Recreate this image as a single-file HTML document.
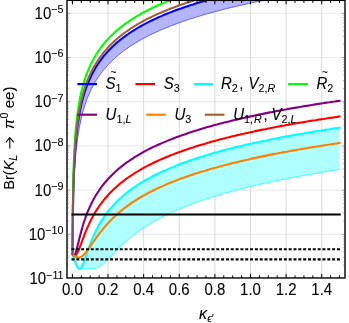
<!DOCTYPE html>
<html><head><meta charset="utf-8"><title>plot</title>
<style>html,body{margin:0;padding:0;background:#fff;}body{width:349px;height:323px;overflow:hidden;position:relative;font-family:"Liberation Sans",sans-serif;}</style></head>
<body>
<svg width="349" height="323" viewBox="0 0 349 323" style="position:absolute;left:0;top:0;will-change:transform">
<defs><clipPath id="c"><rect x="67.0" y="0.35" width="278.0" height="277.59999999999997"/></clipPath></defs>
<rect x="0" y="0" width="349" height="323" fill="#fff"/>
<g stroke="#d6d6d6" stroke-width="0.9"><line x1="108.02" y1="0.35" x2="108.02" y2="277.95"/><line x1="143.64" y1="0.35" x2="143.64" y2="277.95"/><line x1="179.26" y1="0.35" x2="179.26" y2="277.95"/><line x1="214.88" y1="0.35" x2="214.88" y2="277.95"/><line x1="250.50" y1="0.35" x2="250.50" y2="277.95"/><line x1="286.12" y1="0.35" x2="286.12" y2="277.95"/><line x1="321.74" y1="0.35" x2="321.74" y2="277.95"/></g>
<g stroke="#d6d6d6" stroke-width="0.55"><line x1="67.0" y1="234.40" x2="345.0" y2="234.40"/><line x1="67.0" y1="190.18" x2="345.0" y2="190.18"/><line x1="67.0" y1="145.96" x2="345.0" y2="145.96"/><line x1="67.0" y1="101.74" x2="345.0" y2="101.74"/><line x1="67.0" y1="57.52" x2="345.0" y2="57.52"/><line x1="67.0" y1="13.30" x2="345.0" y2="13.30"/></g>
<g clip-path="url(#c)" fill="none" stroke-linejoin="round">
<path d="M72.4,254.0 L72.4,253.5 L72.5,252.1 L72.5,249.9 L72.5,247.2 L72.5,244.2 L72.6,241.1 L72.6,237.9 L72.6,234.8 L72.7,231.9 L72.7,229.0 L72.7,226.3 L72.8,223.7 L72.8,221.2 L72.8,218.8 L72.8,216.6 L72.9,214.4 L72.9,212.4 L72.9,210.4 L73.0,208.6 L73.0,206.8 L73.0,205.0 L73.1,203.4 L73.1,201.8 L73.1,200.3 L73.3,190.8 L73.5,183.2 L73.7,176.8 L74.0,171.3 L74.2,166.5 L74.4,162.2 L74.6,158.3 L74.8,154.8 L75.0,151.6 L75.2,148.7 L75.4,145.9 L75.6,143.3 L75.8,140.9 L76.1,138.6 L76.3,136.5 L76.5,134.5 L76.7,132.5 L76.9,130.7 L77.1,129.0 L77.3,127.3 L77.5,125.7 L77.7,124.1 L77.9,122.7 L78.2,121.2 L78.4,119.8 L78.6,118.5 L78.8,117.2 L79.0,116.0 L79.2,114.8 L79.4,113.6 L79.6,112.5 L79.8,111.4 L80.0,110.3 L80.3,109.3 L80.5,108.3 L80.7,107.3 L80.9,106.3 L81.1,105.4 L81.3,104.5 L82.1,101.3 L82.8,98.5 L83.6,95.8 L84.3,93.3 L85.1,90.9 L85.8,88.7 L86.6,86.6 L87.3,84.6 L88.1,82.7 L88.9,80.9 L89.6,79.2 L90.4,77.5 L91.1,75.9 L91.9,74.4 L92.6,73.0 L93.4,71.6 L94.1,70.2 L94.9,68.9 L95.6,67.6 L96.4,66.4 L97.2,65.2 L97.9,64.0 L98.7,62.9 L99.4,61.8 L100.2,60.8 L100.9,59.8 L101.7,58.7 L102.4,57.8 L103.2,56.8 L103.9,55.9 L104.7,55.0 L105.5,54.1 L106.2,53.2 L107.0,52.4 L107.7,51.5 L108.5,50.7 L109.2,49.9 L110.0,49.2 L110.7,48.4 L111.5,47.7 L112.2,46.9 L113.0,46.2 L113.8,45.5 L114.5,44.8 L115.3,44.1 L116.0,43.4 L116.8,42.8 L117.5,42.1 L118.3,41.5 L119.0,40.9 L119.8,40.3 L120.5,39.6 L121.3,39.1 L122.1,38.5 L122.8,37.9 L123.6,37.3 L124.3,36.8 L125.1,36.2 L125.8,35.6 L128.2,34.0 L130.6,32.3 L133.0,30.8 L135.4,29.3 L137.8,27.9 L140.2,26.5 L142.6,25.1 L145.0,23.9 L147.4,22.6 L149.8,21.4 L152.2,20.2 L154.6,19.1 L157.0,18.0 L159.4,16.9 L161.9,15.9 L164.3,14.8 L166.7,13.8 L169.1,12.9 L171.5,11.9 L173.9,11.0 L176.3,10.1 L178.7,9.2 L181.1,8.4 L183.5,7.5 L185.9,6.7 L188.3,5.9 L190.7,5.1 L193.1,4.4 L195.5,3.6 L197.9,2.9 L200.3,2.1 L202.7,1.4 L205.1,0.7 L207.5,0.0 L209.9,-0.6 L212.3,-1.3 L214.7,-2.0 L217.1,-2.6 L219.5,-3.2 L221.9,-3.9 L224.3,-4.5 L226.7,-5.1 L229.1,-5.7 L231.5,-6.3 L233.9,-6.8 L236.3,-7.4 L238.7,-8.0 L241.1,-8.0 L243.5,-8.0 L245.9,-8.0 L248.3,-8.0 L250.7,-8.0 L253.1,-8.0 L255.5,-8.0 L257.9,-8.0 L260.3,-8.0 L262.7,-8.0 L265.1,-8.0 L267.5,-8.0 L269.9,-8.0 L272.3,-8.0 L274.7,-8.0 L277.1,-8.0 L279.5,-8.0 L281.9,-8.0 L284.3,-8.0 L286.7,-8.0 L289.1,-8.0 L291.5,-8.0 L293.9,-8.0 L296.3,-8.0 L298.7,-8.0 L301.1,-8.0 L303.5,-8.0 L305.9,-8.0 L308.3,-8.0 L310.7,-8.0 L313.1,-8.0 L315.5,-8.0 L317.9,-8.0 L320.3,-8.0 L322.7,-8.0 L325.1,-8.0 L327.5,-8.0 L329.9,-8.0 L332.3,-8.0 L334.7,-8.0 L337.1,-8.0 L339.5,-8.0 L339.5,-8.0 L337.1,-8.0 L334.7,-8.0 L332.3,-8.0 L329.9,-8.0 L327.5,-8.0 L325.1,-8.0 L322.7,-8.0 L320.3,-8.0 L317.9,-8.0 L315.5,-8.0 L313.1,-8.0 L310.7,-8.0 L308.3,-7.7 L305.9,-7.3 L303.5,-6.9 L301.1,-6.5 L298.7,-6.1 L296.3,-5.7 L293.9,-5.3 L291.5,-4.9 L289.1,-4.4 L286.7,-4.0 L284.3,-3.6 L281.9,-3.1 L279.5,-2.7 L277.1,-2.2 L274.7,-1.8 L272.3,-1.3 L269.9,-0.9 L267.5,-0.4 L265.1,0.1 L262.7,0.6 L260.3,1.1 L257.9,1.5 L255.5,2.0 L253.1,2.6 L250.7,3.1 L248.3,3.6 L245.9,4.1 L243.5,4.7 L241.1,5.2 L238.7,5.7 L236.3,6.3 L233.9,6.9 L231.5,7.4 L229.1,8.0 L226.7,8.6 L224.3,9.2 L221.9,9.8 L219.5,10.5 L217.1,11.1 L214.7,11.7 L212.3,12.4 L209.9,13.1 L207.5,13.7 L205.1,14.4 L202.7,15.1 L200.3,15.8 L197.9,16.6 L195.5,17.3 L193.1,18.1 L190.7,18.8 L188.3,19.6 L185.9,20.4 L183.5,21.2 L181.1,22.1 L178.7,22.9 L176.3,23.8 L173.9,24.7 L171.5,25.6 L169.1,26.6 L166.7,27.6 L164.3,28.5 L161.9,29.6 L159.4,30.6 L157.0,31.7 L154.6,32.8 L152.2,33.9 L149.8,35.1 L147.4,36.3 L145.0,37.6 L142.6,38.8 L140.2,40.2 L137.8,41.6 L135.4,43.0 L133.0,44.5 L130.6,46.0 L128.2,47.7 L125.8,49.4 L125.1,49.9 L124.3,50.5 L123.6,51.0 L122.8,51.6 L122.1,52.2 L121.3,52.8 L120.5,53.4 L119.8,54.0 L119.0,54.6 L118.3,55.2 L117.5,55.8 L116.8,56.5 L116.0,57.1 L115.3,57.8 L114.5,58.5 L113.8,59.2 L113.0,59.9 L112.2,60.6 L111.5,61.4 L110.7,62.1 L110.0,62.9 L109.2,63.6 L108.5,64.4 L107.7,65.3 L107.0,66.1 L106.2,66.9 L105.5,67.8 L104.7,68.7 L103.9,69.6 L103.2,70.5 L102.4,71.5 L101.7,72.5 L100.9,73.5 L100.2,74.5 L99.4,75.5 L98.7,76.6 L97.9,77.8 L97.2,78.9 L96.4,80.1 L95.6,81.3 L94.9,82.6 L94.1,83.9 L93.4,85.3 L92.6,86.7 L91.9,88.1 L91.1,89.6 L90.4,91.2 L89.6,92.9 L88.9,94.6 L88.1,96.4 L87.3,98.3 L86.6,100.3 L85.8,102.4 L85.1,104.6 L84.3,107.0 L83.6,109.5 L82.8,112.1 L82.1,115.0 L81.3,118.2 L81.1,119.1 L80.9,120.0 L80.7,121.0 L80.5,122.0 L80.3,123.0 L80.0,124.0 L79.8,125.1 L79.6,126.2 L79.4,127.3 L79.2,128.5 L79.0,129.7 L78.8,130.9 L78.6,132.2 L78.4,133.5 L78.2,134.9 L77.9,136.3 L77.7,137.8 L77.5,139.4 L77.3,141.0 L77.1,142.6 L76.9,144.4 L76.7,146.2 L76.5,148.1 L76.3,150.2 L76.1,152.3 L75.8,154.6 L75.6,157.0 L75.4,159.5 L75.2,162.3 L75.0,165.2 L74.8,168.4 L74.6,171.9 L74.4,175.7 L74.2,180.0 L74.0,184.7 L73.7,190.1 L73.5,196.4 L73.3,203.8 L73.1,212.8 L73.1,214.2 L73.1,215.7 L73.0,217.2 L73.0,218.8 L73.0,220.5 L72.9,222.2 L72.9,223.9 L72.9,225.8 L72.8,227.6 L72.8,229.6 L72.8,231.6 L72.8,233.6 L72.7,235.8 L72.7,237.9 L72.7,240.1 L72.6,242.3 L72.6,244.5 L72.6,246.6 L72.5,248.6 L72.5,250.4 L72.5,251.9 L72.5,253.0 L72.4,253.8 L72.4,254.0Z" fill="#b5b5ff" stroke="none"/>
<path d="M72.4,254.0 L72.4,253.8 L72.5,253.0 L72.5,251.9 L72.5,250.4 L72.5,248.6 L72.6,246.6 L72.6,244.5 L72.6,242.3 L72.7,240.1 L72.7,237.9 L72.7,235.8 L72.8,233.6 L72.8,231.6 L72.8,229.6 L72.8,227.6 L72.9,225.8 L72.9,223.9 L72.9,222.2 L73.0,220.5 L73.0,218.8 L73.0,217.2 L73.1,215.7 L73.1,214.2 L73.1,212.8 L73.3,203.8 L73.5,196.4 L73.7,190.1 L74.0,184.7 L74.2,180.0 L74.4,175.7 L74.6,171.9 L74.8,168.4 L75.0,165.2 L75.2,162.3 L75.4,159.5 L75.6,157.0 L75.8,154.6 L76.1,152.3 L76.3,150.2 L76.5,148.1 L76.7,146.2 L76.9,144.4 L77.1,142.6 L77.3,141.0 L77.5,139.4 L77.7,137.8 L77.9,136.3 L78.2,134.9 L78.4,133.5 L78.6,132.2 L78.8,130.9 L79.0,129.7 L79.2,128.5 L79.4,127.3 L79.6,126.2 L79.8,125.1 L80.0,124.0 L80.3,123.0 L80.5,122.0 L80.7,121.0 L80.9,120.0 L81.1,119.1 L81.3,118.2 L82.1,115.0 L82.8,112.1 L83.6,109.5 L84.3,107.0 L85.1,104.6 L85.8,102.4 L86.6,100.3 L87.3,98.3 L88.1,96.4 L88.9,94.6 L89.6,92.9 L90.4,91.2 L91.1,89.6 L91.9,88.1 L92.6,86.7 L93.4,85.3 L94.1,83.9 L94.9,82.6 L95.6,81.3 L96.4,80.1 L97.2,78.9 L97.9,77.8 L98.7,76.6 L99.4,75.5 L100.2,74.5 L100.9,73.5 L101.7,72.5 L102.4,71.5 L103.2,70.5 L103.9,69.6 L104.7,68.7 L105.5,67.8 L106.2,66.9 L107.0,66.1 L107.7,65.3 L108.5,64.4 L109.2,63.6 L110.0,62.9 L110.7,62.1 L111.5,61.4 L112.2,60.6 L113.0,59.9 L113.8,59.2 L114.5,58.5 L115.3,57.8 L116.0,57.1 L116.8,56.5 L117.5,55.8 L118.3,55.2 L119.0,54.6 L119.8,54.0 L120.5,53.4 L121.3,52.8 L122.1,52.2 L122.8,51.6 L123.6,51.0 L124.3,50.5 L125.1,49.9 L125.8,49.4 L128.2,47.7 L130.6,46.0 L133.0,44.5 L135.4,43.0 L137.8,41.6 L140.2,40.2 L142.6,38.8 L145.0,37.6 L147.4,36.3 L149.8,35.1 L152.2,33.9 L154.6,32.8 L157.0,31.7 L159.4,30.6 L161.9,29.6 L164.3,28.5 L166.7,27.6 L169.1,26.6 L171.5,25.6 L173.9,24.7 L176.3,23.8 L178.7,22.9 L181.1,22.1 L183.5,21.2 L185.9,20.4 L188.3,19.6 L190.7,18.8 L193.1,18.1 L195.5,17.3 L197.9,16.6 L200.3,15.8 L202.7,15.1 L205.1,14.4 L207.5,13.7 L209.9,13.1 L212.3,12.4 L214.7,11.7 L217.1,11.1 L219.5,10.5 L221.9,9.8 L224.3,9.2 L226.7,8.6 L229.1,8.0 L231.5,7.4 L233.9,6.9 L236.3,6.3 L238.7,5.7 L241.1,5.2 L243.5,4.7 L245.9,4.1 L248.3,3.6 L250.7,3.1 L253.1,2.6 L255.5,2.0 L257.9,1.5 L260.3,1.1 L262.7,0.6 L265.1,0.1 L267.5,-0.4 L269.9,-0.9 L272.3,-1.3 L274.7,-1.8 L277.1,-2.2 L279.5,-2.7 L281.9,-3.1 L284.3,-3.6 L286.7,-4.0 L289.1,-4.4 L291.5,-4.9 L293.9,-5.3 L296.3,-5.7 L298.7,-6.1 L301.1,-6.5 L303.5,-6.9 L305.9,-7.3 L308.3,-7.7 L310.7,-8.0 L313.1,-8.0 L315.5,-8.0 L317.9,-8.0 L320.3,-8.0 L322.7,-8.0 L325.1,-8.0 L327.5,-8.0 L329.9,-8.0 L332.3,-8.0 L334.7,-8.0 L337.1,-8.0 L339.5,-8.0" stroke="#4040ff" stroke-width="0.8"/>
<path d="M72.4,254.0 L72.4,254.1 L72.5,254.2 L72.5,254.3 L72.5,254.4 L72.5,254.4 L72.6,254.5 L72.6,254.6 L72.6,254.7 L72.7,254.8 L72.7,254.9 L72.7,255.0 L72.8,255.1 L72.8,255.1 L72.8,255.2 L72.8,255.3 L72.9,255.4 L72.9,255.5 L72.9,255.6 L73.0,255.7 L73.0,255.7 L73.0,255.8 L73.1,255.9 L73.1,256.0 L73.1,256.1 L73.3,256.7 L73.5,257.3 L73.7,257.9 L74.0,258.5 L74.2,259.1 L74.4,259.7 L74.6,260.3 L74.8,260.9 L75.0,261.4 L75.2,262.0 L75.4,262.5 L75.6,263.1 L75.8,263.6 L76.1,264.1 L76.3,264.6 L76.5,265.1 L76.7,265.5 L76.9,265.9 L77.1,266.3 L77.3,266.7 L77.5,267.1 L77.7,267.4 L77.9,267.7 L78.2,267.9 L78.4,268.1 L78.6,268.3 L78.8,268.5 L79.0,268.6 L79.2,268.7 L79.4,268.7 L79.6,268.7 L79.8,268.7 L80.0,268.6 L80.3,268.5 L80.5,268.3 L80.7,268.1 L80.9,267.9 L81.1,267.6 L81.3,267.3 L82.1,266.0 L82.8,264.4 L83.6,262.6 L84.3,260.5 L85.1,258.4 L85.8,256.2 L86.6,254.0 L87.3,251.9 L88.1,249.7 L88.9,247.7 L89.6,245.6 L90.4,243.6 L91.1,241.7 L91.9,239.9 L92.6,238.1 L93.4,236.4 L94.1,234.7 L94.9,233.1 L95.6,231.5 L96.4,230.0 L97.2,228.5 L97.9,227.1 L98.7,225.7 L99.4,224.4 L100.2,223.1 L100.9,221.9 L101.7,220.6 L102.4,219.5 L103.2,218.3 L103.9,217.2 L104.7,216.1 L105.5,215.0 L106.2,214.0 L107.0,213.0 L107.7,212.0 L108.5,211.1 L109.2,210.1 L110.0,209.2 L110.7,208.3 L111.5,207.4 L112.2,206.6 L113.0,205.7 L113.8,204.9 L114.5,204.1 L115.3,203.3 L116.0,202.5 L116.8,201.8 L117.5,201.0 L118.3,200.3 L119.0,199.6 L119.8,198.9 L120.5,198.2 L121.3,197.5 L122.1,196.8 L122.8,196.1 L123.6,195.5 L124.3,194.9 L125.1,194.2 L125.8,193.6 L128.2,191.7 L130.6,189.9 L133.0,188.2 L135.4,186.5 L137.8,184.9 L140.2,183.4 L142.6,181.9 L145.0,180.5 L147.4,179.1 L149.8,177.8 L152.2,176.5 L154.6,175.3 L157.0,174.1 L159.4,172.9 L161.9,171.8 L164.3,170.7 L166.7,169.6 L169.1,168.6 L171.5,167.6 L173.9,166.6 L176.3,165.6 L178.7,164.7 L181.1,163.8 L183.5,162.9 L185.9,162.0 L188.3,161.2 L190.7,160.3 L193.1,159.5 L195.5,158.7 L197.9,157.9 L200.3,157.1 L202.7,156.4 L205.1,155.6 L207.5,154.9 L209.9,154.2 L212.3,153.5 L214.7,152.8 L217.1,152.2 L219.5,151.5 L221.9,150.8 L224.3,150.2 L226.7,149.6 L229.1,148.9 L231.5,148.3 L233.9,147.7 L236.3,147.1 L238.7,146.6 L241.1,146.0 L243.5,145.4 L245.9,144.9 L248.3,144.3 L250.7,143.8 L253.1,143.2 L255.5,142.7 L257.9,142.2 L260.3,141.7 L262.7,141.2 L265.1,140.7 L267.5,140.2 L269.9,139.7 L272.3,139.2 L274.7,138.7 L277.1,138.3 L279.5,137.8 L281.9,137.3 L284.3,136.9 L286.7,136.4 L289.1,136.0 L291.5,135.6 L293.9,135.1 L296.3,134.7 L298.7,134.3 L301.1,133.9 L303.5,133.5 L305.9,133.0 L308.3,132.6 L310.7,132.2 L313.1,131.8 L315.5,131.4 L317.9,131.1 L320.3,130.7 L322.7,130.3 L325.1,129.9 L327.5,129.5 L329.9,129.2 L332.3,128.8 L334.7,128.4 L337.1,128.1 L339.5,127.7 L339.5,169.5 L337.1,169.9 L334.7,170.3 L332.3,170.6 L329.9,171.0 L327.5,171.4 L325.1,171.8 L322.7,172.2 L320.3,172.6 L317.9,173.0 L315.5,173.4 L313.1,173.8 L310.7,174.3 L308.3,174.7 L305.9,175.1 L303.5,175.5 L301.1,176.0 L298.7,176.4 L296.3,176.9 L293.9,177.3 L291.5,177.8 L289.1,178.2 L286.7,178.7 L284.3,179.2 L281.9,179.7 L279.5,180.1 L277.1,180.6 L274.7,181.1 L272.3,181.6 L269.9,182.2 L267.5,182.7 L265.1,183.2 L262.7,183.7 L260.3,184.3 L257.9,184.8 L255.5,185.4 L253.1,185.9 L250.7,186.5 L248.3,187.1 L245.9,187.7 L243.5,188.3 L241.1,188.9 L238.7,189.5 L236.3,190.1 L233.9,190.8 L231.5,191.4 L229.1,192.1 L226.7,192.7 L224.3,193.4 L221.9,194.1 L219.5,194.8 L217.1,195.6 L214.7,196.3 L212.3,197.0 L209.9,197.8 L207.5,198.6 L205.1,199.4 L202.7,200.2 L200.3,201.0 L197.9,201.8 L195.5,202.7 L193.1,203.6 L190.7,204.5 L188.3,205.4 L185.9,206.3 L183.5,207.3 L181.1,208.3 L178.7,209.3 L176.3,210.3 L173.9,211.4 L171.5,212.5 L169.1,213.6 L166.7,214.8 L164.3,216.0 L161.9,217.2 L159.4,218.5 L157.0,219.8 L154.6,221.1 L152.2,222.5 L149.8,224.0 L147.4,225.4 L145.0,227.0 L142.6,228.6 L140.2,230.2 L137.8,231.9 L135.4,233.7 L133.0,235.6 L130.6,237.5 L128.2,239.5 L125.8,241.6 L125.1,242.3 L124.3,242.9 L123.6,243.6 L122.8,244.3 L122.1,245.0 L121.3,245.7 L120.5,246.4 L119.8,247.2 L119.0,247.9 L118.3,248.6 L117.5,249.4 L116.8,250.1 L116.0,250.9 L115.3,251.6 L114.5,252.4 L113.8,253.2 L113.0,253.9 L112.2,254.7 L111.5,255.5 L110.7,256.3 L110.0,257.0 L109.2,257.8 L108.5,258.6 L107.7,259.3 L107.0,260.1 L106.2,260.8 L105.5,261.5 L104.7,262.2 L103.9,262.9 L103.2,263.6 L102.4,264.2 L101.7,264.9 L100.9,265.4 L100.2,266.0 L99.4,266.5 L98.7,267.0 L97.9,267.4 L97.2,267.7 L96.4,268.0 L95.6,268.3 L94.9,268.5 L94.1,268.6 L93.4,268.7 L92.6,268.7 L91.9,268.7 L91.1,268.7 L90.4,268.7 L89.6,268.7 L88.9,268.7 L88.1,268.7 L87.3,268.7 L86.6,268.7 L85.8,268.7 L85.1,268.7 L84.3,268.7 L83.6,268.7 L82.8,268.7 L82.1,268.7 L81.3,268.7 L81.1,268.7 L80.9,268.7 L80.7,268.7 L80.5,268.7 L80.3,268.7 L80.0,268.7 L79.8,268.7 L79.6,268.7 L79.4,268.7 L79.2,268.7 L79.0,268.6 L78.8,268.5 L78.6,268.3 L78.4,268.1 L78.2,267.9 L77.9,267.7 L77.7,267.4 L77.5,267.1 L77.3,266.7 L77.1,266.3 L76.9,265.9 L76.7,265.5 L76.5,265.1 L76.3,264.6 L76.1,264.1 L75.8,263.6 L75.6,263.1 L75.4,262.5 L75.2,262.0 L75.0,261.4 L74.8,260.9 L74.6,260.3 L74.4,259.7 L74.2,259.1 L74.0,258.5 L73.7,257.9 L73.5,257.3 L73.3,256.7 L73.1,256.1 L73.1,256.0 L73.1,255.9 L73.0,255.8 L73.0,255.7 L73.0,255.7 L72.9,255.6 L72.9,255.5 L72.9,255.4 L72.8,255.3 L72.8,255.2 L72.8,255.1 L72.8,255.1 L72.7,255.0 L72.7,254.9 L72.7,254.8 L72.6,254.7 L72.6,254.6 L72.6,254.5 L72.5,254.4 L72.5,254.4 L72.5,254.3 L72.5,254.2 L72.4,254.1 L72.4,254.0Z" fill="#b0ffff" stroke="none"/>
<path d="M72.4,254.0 L72.4,254.1 L72.5,254.2 L72.5,254.3 L72.5,254.4 L72.5,254.4 L72.6,254.5 L72.6,254.6 L72.6,254.7 L72.7,254.8 L72.7,254.9 L72.7,255.0 L72.8,255.1 L72.8,255.1 L72.8,255.2 L72.8,255.3 L72.9,255.4 L72.9,255.5 L72.9,255.6 L73.0,255.7 L73.0,255.7 L73.0,255.8 L73.1,255.9 L73.1,256.0 L73.1,256.1 L73.3,256.7 L73.5,257.3 L73.7,257.9 L74.0,258.5 L74.2,259.1 L74.4,259.7 L74.6,260.3 L74.8,260.9 L75.0,261.4 L75.2,262.0 L75.4,262.5 L75.6,263.1 L75.8,263.6 L76.1,264.1 L76.3,264.6 L76.5,265.1 L76.7,265.5 L76.9,265.9 L77.1,266.3 L77.3,266.7 L77.5,267.1 L77.7,267.4 L77.9,267.7 L78.2,267.9 L78.4,268.1 L78.6,268.3 L78.8,268.5 L79.0,268.6 L79.2,268.7 L79.4,268.7 L79.6,268.7 L79.8,268.7 L80.0,268.7 L80.3,268.7 L80.5,268.7 L80.7,268.7 L80.9,268.7 L81.1,268.7 L81.3,268.7 L82.1,268.7 L82.8,268.7 L83.6,268.7 L84.3,268.7 L85.1,268.7 L85.8,268.7 L86.6,268.7 L87.3,268.7 L88.1,268.7 L88.9,268.7 L89.6,268.7 L90.4,268.7 L91.1,268.7 L91.9,268.7 L92.6,268.7 L93.4,268.7 L94.1,268.6 L94.9,268.5 L95.6,268.3 L96.4,268.0 L97.2,267.7 L97.9,267.4 L98.7,267.0 L99.4,266.5 L100.2,266.0 L100.9,265.4 L101.7,264.9 L102.4,264.2 L103.2,263.6 L103.9,262.9 L104.7,262.2 L105.5,261.5 L106.2,260.8 L107.0,260.1 L107.7,259.3 L108.5,258.6 L109.2,257.8 L110.0,257.0 L110.7,256.3 L111.5,255.5 L112.2,254.7 L113.0,253.9 L113.8,253.2 L114.5,252.4 L115.3,251.6 L116.0,250.9 L116.8,250.1 L117.5,249.4 L118.3,248.6 L119.0,247.9 L119.8,247.2 L120.5,246.4 L121.3,245.7 L122.1,245.0 L122.8,244.3 L123.6,243.6 L124.3,242.9 L125.1,242.3 L125.8,241.6 L128.2,239.5 L130.6,237.5 L133.0,235.6 L135.4,233.7 L137.8,231.9 L140.2,230.2 L142.6,228.6 L145.0,227.0 L147.4,225.4 L149.8,224.0 L152.2,222.5 L154.6,221.1 L157.0,219.8 L159.4,218.5 L161.9,217.2 L164.3,216.0 L166.7,214.8 L169.1,213.6 L171.5,212.5 L173.9,211.4 L176.3,210.3 L178.7,209.3 L181.1,208.3 L183.5,207.3 L185.9,206.3 L188.3,205.4 L190.7,204.5 L193.1,203.6 L195.5,202.7 L197.9,201.8 L200.3,201.0 L202.7,200.2 L205.1,199.4 L207.5,198.6 L209.9,197.8 L212.3,197.0 L214.7,196.3 L217.1,195.6 L219.5,194.8 L221.9,194.1 L224.3,193.4 L226.7,192.7 L229.1,192.1 L231.5,191.4 L233.9,190.8 L236.3,190.1 L238.7,189.5 L241.1,188.9 L243.5,188.3 L245.9,187.7 L248.3,187.1 L250.7,186.5 L253.1,185.9 L255.5,185.4 L257.9,184.8 L260.3,184.3 L262.7,183.7 L265.1,183.2 L267.5,182.7 L269.9,182.2 L272.3,181.6 L274.7,181.1 L277.1,180.6 L279.5,180.1 L281.9,179.7 L284.3,179.2 L286.7,178.7 L289.1,178.2 L291.5,177.8 L293.9,177.3 L296.3,176.9 L298.7,176.4 L301.1,176.0 L303.5,175.5 L305.9,175.1 L308.3,174.7 L310.7,174.3 L313.1,173.8 L315.5,173.4 L317.9,173.0 L320.3,172.6 L322.7,172.2 L325.1,171.8 L327.5,171.4 L329.9,171.0 L332.3,170.6 L334.7,170.3 L337.1,169.9 L339.5,169.5" stroke="#10ffff" stroke-width="0.8"/>
<path d="M72.4,254.0 L72.4,253.5 L72.5,252.1 L72.5,249.9 L72.5,247.2 L72.5,244.2 L72.6,241.1 L72.6,237.9 L72.6,234.8 L72.7,231.9 L72.7,229.0 L72.7,226.3 L72.8,223.7 L72.8,221.2 L72.8,218.8 L72.8,216.6 L72.9,214.4 L72.9,212.4 L72.9,210.4 L73.0,208.6 L73.0,206.8 L73.0,205.0 L73.1,203.4 L73.1,201.8 L73.1,200.3 L73.3,190.8 L73.5,183.2 L73.7,176.8 L74.0,171.3 L74.2,166.5 L74.4,162.2 L74.6,158.3 L74.8,154.8 L75.0,151.6 L75.2,148.7 L75.4,145.9 L75.6,143.3 L75.8,140.9 L76.1,138.6 L76.3,136.5 L76.5,134.5 L76.7,132.5 L76.9,130.7 L77.1,129.0 L77.3,127.3 L77.5,125.7 L77.7,124.1 L77.9,122.7 L78.2,121.2 L78.4,119.8 L78.6,118.5 L78.8,117.2 L79.0,116.0 L79.2,114.8 L79.4,113.6 L79.6,112.5 L79.8,111.4 L80.0,110.3 L80.3,109.3 L80.5,108.3 L80.7,107.3 L80.9,106.3 L81.1,105.4 L81.3,104.5 L82.1,101.3 L82.8,98.5 L83.6,95.8 L84.3,93.3 L85.1,90.9 L85.8,88.7 L86.6,86.6 L87.3,84.6 L88.1,82.7 L88.9,80.9 L89.6,79.2 L90.4,77.5 L91.1,75.9 L91.9,74.4 L92.6,73.0 L93.4,71.6 L94.1,70.2 L94.9,68.9 L95.6,67.6 L96.4,66.4 L97.2,65.2 L97.9,64.0 L98.7,62.9 L99.4,61.8 L100.2,60.8 L100.9,59.8 L101.7,58.7 L102.4,57.8 L103.2,56.8 L103.9,55.9 L104.7,55.0 L105.5,54.1 L106.2,53.2 L107.0,52.4 L107.7,51.5 L108.5,50.7 L109.2,49.9 L110.0,49.2 L110.7,48.4 L111.5,47.7 L112.2,46.9 L113.0,46.2 L113.8,45.5 L114.5,44.8 L115.3,44.1 L116.0,43.4 L116.8,42.8 L117.5,42.1 L118.3,41.5 L119.0,40.9 L119.8,40.3 L120.5,39.6 L121.3,39.1 L122.1,38.5 L122.8,37.9 L123.6,37.3 L124.3,36.8 L125.1,36.2 L125.8,35.6 L128.2,34.0 L130.6,32.3 L133.0,30.8 L135.4,29.3 L137.8,27.9 L140.2,26.5 L142.6,25.1 L145.0,23.9 L147.4,22.6 L149.8,21.4 L152.2,20.2 L154.6,19.1 L157.0,18.0 L159.4,16.9 L161.9,15.9 L164.3,14.8 L166.7,13.8 L169.1,12.9 L171.5,11.9 L173.9,11.0 L176.3,10.1 L178.7,9.2 L181.1,8.4 L183.5,7.5 L185.9,6.7 L188.3,5.9 L190.7,5.1 L193.1,4.4 L195.5,3.6 L197.9,2.9 L200.3,2.1 L202.7,1.4 L205.1,0.7 L207.5,0.0 L209.9,-0.6 L212.3,-1.3 L214.7,-2.0 L217.1,-2.6 L219.5,-3.2 L221.9,-3.9 L224.3,-4.5 L226.7,-5.1 L229.1,-5.7 L231.5,-6.3 L233.9,-6.8 L236.3,-7.4 L238.7,-8.0 L241.1,-8.0 L243.5,-8.0 L245.9,-8.0 L248.3,-8.0 L250.7,-8.0 L253.1,-8.0 L255.5,-8.0 L257.9,-8.0 L260.3,-8.0 L262.7,-8.0 L265.1,-8.0 L267.5,-8.0 L269.9,-8.0 L272.3,-8.0 L274.7,-8.0 L277.1,-8.0 L279.5,-8.0 L281.9,-8.0 L284.3,-8.0 L286.7,-8.0 L289.1,-8.0 L291.5,-8.0 L293.9,-8.0 L296.3,-8.0 L298.7,-8.0 L301.1,-8.0 L303.5,-8.0 L305.9,-8.0 L308.3,-8.0 L310.7,-8.0 L313.1,-8.0 L315.5,-8.0 L317.9,-8.0 L320.3,-8.0 L322.7,-8.0 L325.1,-8.0 L327.5,-8.0 L329.9,-8.0 L332.3,-8.0 L334.7,-8.0 L337.1,-8.0 L339.5,-8.0" stroke="#0000ff" stroke-width="2.1" stroke-linecap="square"/>
<path d="M72.4,254.0 L72.4,254.1 L72.5,254.1 L72.5,254.2 L72.5,254.2 L72.5,254.2 L72.6,254.3 L72.6,254.3 L72.6,254.4 L72.7,254.4 L72.7,254.4 L72.7,254.5 L72.8,254.5 L72.8,254.6 L72.8,254.6 L72.8,254.6 L72.9,254.7 L72.9,254.7 L72.9,254.7 L73.0,254.8 L73.0,254.8 L73.0,254.8 L73.1,254.9 L73.1,254.9 L73.1,254.9 L73.3,255.1 L73.5,255.3 L73.7,255.4 L74.0,255.6 L74.2,255.6 L74.4,255.7 L74.6,255.7 L74.8,255.7 L75.0,255.6 L75.2,255.5 L75.4,255.4 L75.6,255.2 L75.8,255.0 L76.1,254.8 L76.3,254.6 L76.5,254.3 L76.7,254.0 L76.9,253.6 L77.1,253.3 L77.3,252.9 L77.5,252.5 L77.7,252.1 L77.9,251.7 L78.2,251.2 L78.4,250.7 L78.6,250.3 L78.8,249.8 L79.0,249.2 L79.2,248.7 L79.4,248.2 L79.6,247.7 L79.8,247.1 L80.0,246.6 L80.3,246.0 L80.5,245.4 L80.7,244.9 L80.9,244.3 L81.1,243.8 L81.3,243.2 L82.1,241.1 L82.8,239.1 L83.6,237.1 L84.3,235.1 L85.1,233.2 L85.8,231.3 L86.6,229.5 L87.3,227.8 L88.1,226.1 L88.9,224.4 L89.6,222.8 L90.4,221.2 L91.1,219.7 L91.9,218.3 L92.6,216.9 L93.4,215.5 L94.1,214.2 L94.9,212.9 L95.6,211.6 L96.4,210.4 L97.2,209.2 L97.9,208.1 L98.7,207.0 L99.4,205.9 L100.2,204.8 L100.9,203.8 L101.7,202.8 L102.4,201.8 L103.2,200.8 L103.9,199.9 L104.7,199.0 L105.5,198.0 L106.2,197.2 L107.0,196.3 L107.7,195.5 L108.5,194.6 L109.2,193.8 L110.0,193.0 L110.7,192.3 L111.5,191.5 L112.2,190.7 L113.0,190.0 L113.8,189.3 L114.5,188.6 L115.3,187.9 L116.0,187.2 L116.8,186.5 L117.5,185.9 L118.3,185.2 L119.0,184.6 L119.8,183.9 L120.5,183.3 L121.3,182.7 L122.1,182.1 L122.8,181.5 L123.6,180.9 L124.3,180.4 L125.1,179.8 L125.8,179.2 L128.2,177.5 L130.6,175.8 L133.0,174.3 L135.4,172.7 L137.8,171.3 L140.2,169.9 L142.6,168.5 L145.0,167.2 L147.4,165.9 L149.8,164.7 L152.2,163.5 L154.6,162.3 L157.0,161.2 L159.4,160.1 L161.9,159.0 L164.3,158.0 L166.7,157.0 L169.1,156.0 L171.5,155.1 L173.9,154.1 L176.3,153.2 L178.7,152.3 L181.1,151.4 L183.5,150.6 L185.9,149.8 L188.3,148.9 L190.7,148.1 L193.1,147.4 L195.5,146.6 L197.9,145.8 L200.3,145.1 L202.7,144.4 L205.1,143.7 L207.5,143.0 L209.9,142.3 L212.3,141.6 L214.7,140.9 L217.1,140.3 L219.5,139.6 L221.9,139.0 L224.3,138.4 L226.7,137.8 L229.1,137.2 L231.5,136.6 L233.9,136.0 L236.3,135.4 L238.7,134.9 L241.1,134.3 L243.5,133.8 L245.9,133.2 L248.3,132.7 L250.7,132.2 L253.1,131.7 L255.5,131.1 L257.9,130.6 L260.3,130.1 L262.7,129.6 L265.1,129.2 L267.5,128.7 L269.9,128.2 L272.3,127.7 L274.7,127.3 L277.1,126.8 L279.5,126.4 L281.9,125.9 L284.3,125.5 L286.7,125.0 L289.1,124.6 L291.5,124.2 L293.9,123.8 L296.3,123.3 L298.7,122.9 L301.1,122.5 L303.5,122.1 L305.9,121.7 L308.3,121.3 L310.7,120.9 L313.1,120.5 L315.5,120.2 L317.9,119.8 L320.3,119.4 L322.7,119.0 L325.1,118.7 L327.5,118.3 L329.9,117.9 L332.3,117.6 L334.7,117.2 L337.1,116.9 L339.5,116.5" stroke="#ff0000" stroke-width="2.1" stroke-linecap="square"/>
<path d="M72.4,254.0 L72.4,254.1 L72.5,254.2 L72.5,254.3 L72.5,254.4 L72.5,254.4 L72.6,254.5 L72.6,254.6 L72.6,254.7 L72.7,254.8 L72.7,254.9 L72.7,255.0 L72.8,255.1 L72.8,255.1 L72.8,255.2 L72.8,255.3 L72.9,255.4 L72.9,255.5 L72.9,255.6 L73.0,255.7 L73.0,255.7 L73.0,255.8 L73.1,255.9 L73.1,256.0 L73.1,256.1 L73.3,256.7 L73.5,257.3 L73.7,257.9 L74.0,258.5 L74.2,259.1 L74.4,259.7 L74.6,260.3 L74.8,260.9 L75.0,261.4 L75.2,262.0 L75.4,262.5 L75.6,263.1 L75.8,263.6 L76.1,264.1 L76.3,264.6 L76.5,265.1 L76.7,265.5 L76.9,265.9 L77.1,266.3 L77.3,266.7 L77.5,267.1 L77.7,267.4 L77.9,267.7 L78.2,267.9 L78.4,268.1 L78.6,268.3 L78.8,268.5 L79.0,268.6 L79.2,268.7 L79.4,268.7 L79.6,268.7 L79.8,268.7 L80.0,268.6 L80.3,268.5 L80.5,268.3 L80.7,268.1 L80.9,267.9 L81.1,267.6 L81.3,267.3 L82.1,266.0 L82.8,264.4 L83.6,262.6 L84.3,260.5 L85.1,258.4 L85.8,256.2 L86.6,254.0 L87.3,251.9 L88.1,249.7 L88.9,247.7 L89.6,245.6 L90.4,243.6 L91.1,241.7 L91.9,239.9 L92.6,238.1 L93.4,236.4 L94.1,234.7 L94.9,233.1 L95.6,231.5 L96.4,230.0 L97.2,228.5 L97.9,227.1 L98.7,225.7 L99.4,224.4 L100.2,223.1 L100.9,221.9 L101.7,220.6 L102.4,219.5 L103.2,218.3 L103.9,217.2 L104.7,216.1 L105.5,215.0 L106.2,214.0 L107.0,213.0 L107.7,212.0 L108.5,211.1 L109.2,210.1 L110.0,209.2 L110.7,208.3 L111.5,207.4 L112.2,206.6 L113.0,205.7 L113.8,204.9 L114.5,204.1 L115.3,203.3 L116.0,202.5 L116.8,201.8 L117.5,201.0 L118.3,200.3 L119.0,199.6 L119.8,198.9 L120.5,198.2 L121.3,197.5 L122.1,196.8 L122.8,196.1 L123.6,195.5 L124.3,194.9 L125.1,194.2 L125.8,193.6 L128.2,191.7 L130.6,189.9 L133.0,188.2 L135.4,186.5 L137.8,184.9 L140.2,183.4 L142.6,181.9 L145.0,180.5 L147.4,179.1 L149.8,177.8 L152.2,176.5 L154.6,175.3 L157.0,174.1 L159.4,172.9 L161.9,171.8 L164.3,170.7 L166.7,169.6 L169.1,168.6 L171.5,167.6 L173.9,166.6 L176.3,165.6 L178.7,164.7 L181.1,163.8 L183.5,162.9 L185.9,162.0 L188.3,161.2 L190.7,160.3 L193.1,159.5 L195.5,158.7 L197.9,157.9 L200.3,157.1 L202.7,156.4 L205.1,155.6 L207.5,154.9 L209.9,154.2 L212.3,153.5 L214.7,152.8 L217.1,152.2 L219.5,151.5 L221.9,150.8 L224.3,150.2 L226.7,149.6 L229.1,148.9 L231.5,148.3 L233.9,147.7 L236.3,147.1 L238.7,146.6 L241.1,146.0 L243.5,145.4 L245.9,144.9 L248.3,144.3 L250.7,143.8 L253.1,143.2 L255.5,142.7 L257.9,142.2 L260.3,141.7 L262.7,141.2 L265.1,140.7 L267.5,140.2 L269.9,139.7 L272.3,139.2 L274.7,138.7 L277.1,138.3 L279.5,137.8 L281.9,137.3 L284.3,136.9 L286.7,136.4 L289.1,136.0 L291.5,135.6 L293.9,135.1 L296.3,134.7 L298.7,134.3 L301.1,133.9 L303.5,133.5 L305.9,133.0 L308.3,132.6 L310.7,132.2 L313.1,131.8 L315.5,131.4 L317.9,131.1 L320.3,130.7 L322.7,130.3 L325.1,129.9 L327.5,129.5 L329.9,129.2 L332.3,128.8 L334.7,128.4 L337.1,128.1 L339.5,127.7" stroke="#00ffff" stroke-width="2.1" stroke-linecap="square"/>
<path d="M72.4,254.0 L72.4,253.1 L72.5,250.5 L72.5,246.8 L72.5,242.6 L72.5,238.3 L72.6,234.1 L72.6,230.1 L72.6,226.3 L72.7,222.8 L72.7,219.4 L72.7,216.3 L72.8,213.4 L72.8,210.7 L72.8,208.1 L72.8,205.7 L72.9,203.4 L72.9,201.3 L72.9,199.2 L73.0,197.2 L73.0,195.4 L73.0,193.6 L73.1,191.9 L73.1,190.2 L73.1,188.6 L73.3,179.0 L73.5,171.2 L73.7,164.8 L74.0,159.2 L74.2,154.4 L74.4,150.1 L74.6,146.2 L74.8,142.7 L75.0,139.5 L75.2,136.5 L75.4,133.7 L75.6,131.2 L75.8,128.7 L76.1,126.5 L76.3,124.3 L76.5,122.3 L76.7,120.4 L76.9,118.5 L77.1,116.8 L77.3,115.1 L77.5,113.5 L77.7,111.9 L77.9,110.5 L78.2,109.0 L78.4,107.7 L78.6,106.3 L78.8,105.0 L79.0,103.8 L79.2,102.6 L79.4,101.4 L79.6,100.3 L79.8,99.2 L80.0,98.1 L80.3,97.1 L80.5,96.1 L80.7,95.1 L80.9,94.1 L81.1,93.2 L81.3,92.3 L82.1,89.1 L82.8,86.3 L83.6,83.6 L84.3,81.1 L85.1,78.7 L85.8,76.5 L86.6,74.4 L87.3,72.4 L88.1,70.5 L88.9,68.7 L89.6,67.0 L90.4,65.3 L91.1,63.7 L91.9,62.2 L92.6,60.8 L93.4,59.4 L94.1,58.0 L94.9,56.7 L95.6,55.4 L96.4,54.2 L97.2,53.0 L97.9,51.8 L98.7,50.7 L99.4,49.6 L100.2,48.6 L100.9,47.6 L101.7,46.5 L102.4,45.6 L103.2,44.6 L103.9,43.7 L104.7,42.8 L105.5,41.9 L106.2,41.0 L107.0,40.2 L107.7,39.3 L108.5,38.5 L109.2,37.7 L110.0,37.0 L110.7,36.2 L111.5,35.5 L112.2,34.7 L113.0,34.0 L113.8,33.3 L114.5,32.6 L115.3,31.9 L116.0,31.2 L116.8,30.6 L117.5,29.9 L118.3,29.3 L119.0,28.7 L119.8,28.1 L120.5,27.4 L121.3,26.9 L122.1,26.3 L122.8,25.7 L123.6,25.1 L124.3,24.5 L125.1,24.0 L125.8,23.4 L128.2,21.8 L130.6,20.1 L133.0,18.6 L135.4,17.1 L137.8,15.7 L140.2,14.3 L142.6,12.9 L145.0,11.7 L147.4,10.4 L149.8,9.2 L152.2,8.0 L154.6,6.9 L157.0,5.8 L159.4,4.7 L161.9,3.7 L164.3,2.6 L166.7,1.6 L169.1,0.7 L171.5,-0.3 L173.9,-1.2 L176.3,-2.1 L178.7,-3.0 L181.1,-3.8 L183.5,-4.7 L185.9,-5.5 L188.3,-6.3 L190.7,-7.1 L193.1,-7.8 L195.5,-8.0 L197.9,-8.0 L200.3,-8.0 L202.7,-8.0 L205.1,-8.0 L207.5,-8.0 L209.9,-8.0 L212.3,-8.0 L214.7,-8.0 L217.1,-8.0 L219.5,-8.0 L221.9,-8.0 L224.3,-8.0 L226.7,-8.0 L229.1,-8.0 L231.5,-8.0 L233.9,-8.0 L236.3,-8.0 L238.7,-8.0 L241.1,-8.0 L243.5,-8.0 L245.9,-8.0 L248.3,-8.0 L250.7,-8.0 L253.1,-8.0 L255.5,-8.0 L257.9,-8.0 L260.3,-8.0 L262.7,-8.0 L265.1,-8.0 L267.5,-8.0 L269.9,-8.0 L272.3,-8.0 L274.7,-8.0 L277.1,-8.0 L279.5,-8.0 L281.9,-8.0 L284.3,-8.0 L286.7,-8.0 L289.1,-8.0 L291.5,-8.0 L293.9,-8.0 L296.3,-8.0 L298.7,-8.0 L301.1,-8.0 L303.5,-8.0 L305.9,-8.0 L308.3,-8.0 L310.7,-8.0 L313.1,-8.0 L315.5,-8.0 L317.9,-8.0 L320.3,-8.0 L322.7,-8.0 L325.1,-8.0 L327.5,-8.0 L329.9,-8.0 L332.3,-8.0 L334.7,-8.0 L337.1,-8.0 L339.5,-8.0" stroke="#00ff00" stroke-width="2.1" stroke-linecap="square"/>
<path d="M72.4,254.0 L72.4,254.1 L72.5,254.1 L72.5,254.2 L72.5,254.3 L72.5,254.3 L72.6,254.4 L72.6,254.4 L72.6,254.5 L72.7,254.5 L72.7,254.6 L72.7,254.6 L72.8,254.7 L72.8,254.7 L72.8,254.8 L72.8,254.8 L72.9,254.9 L72.9,254.9 L72.9,254.9 L73.0,255.0 L73.0,255.0 L73.0,255.0 L73.1,255.1 L73.1,255.1 L73.1,255.1 L73.3,255.3 L73.5,255.4 L73.7,255.5 L74.0,255.4 L74.2,255.3 L74.4,255.1 L74.6,254.8 L74.8,254.5 L75.0,254.1 L75.2,253.6 L75.4,253.1 L75.6,252.6 L75.8,251.9 L76.1,251.3 L76.3,250.6 L76.5,249.9 L76.7,249.1 L76.9,248.3 L77.1,247.5 L77.3,246.7 L77.5,245.9 L77.7,245.1 L77.9,244.2 L78.2,243.4 L78.4,242.5 L78.6,241.7 L78.8,240.8 L79.0,240.0 L79.2,239.1 L79.4,238.3 L79.6,237.5 L79.8,236.6 L80.0,235.8 L80.3,235.0 L80.5,234.2 L80.7,233.4 L80.9,232.6 L81.1,231.8 L81.3,231.0 L82.1,228.4 L82.8,225.8 L83.6,223.3 L84.3,221.0 L85.1,218.8 L85.8,216.7 L86.6,214.6 L87.3,212.7 L88.1,210.8 L88.9,209.1 L89.6,207.3 L90.4,205.7 L91.1,204.1 L91.9,202.6 L92.6,201.1 L93.4,199.7 L94.1,198.3 L94.9,197.0 L95.6,195.7 L96.4,194.5 L97.2,193.3 L97.9,192.1 L98.7,191.0 L99.4,189.9 L100.2,188.8 L100.9,187.7 L101.7,186.7 L102.4,185.7 L103.2,184.8 L103.9,183.8 L104.7,182.9 L105.5,182.0 L106.2,181.1 L107.0,180.2 L107.7,179.4 L108.5,178.6 L109.2,177.7 L110.0,177.0 L110.7,176.2 L111.5,175.4 L112.2,174.7 L113.0,173.9 L113.8,173.2 L114.5,172.5 L115.3,171.8 L116.0,171.1 L116.8,170.5 L117.5,169.8 L118.3,169.1 L119.0,168.5 L119.8,167.9 L120.5,167.3 L121.3,166.7 L122.1,166.1 L122.8,165.5 L123.6,164.9 L124.3,164.3 L125.1,163.7 L125.8,163.2 L128.2,161.5 L130.6,159.8 L133.0,158.3 L135.4,156.7 L137.8,155.3 L140.2,153.9 L142.6,152.5 L145.0,151.2 L147.4,149.9 L149.8,148.7 L152.2,147.5 L154.6,146.4 L157.0,145.3 L159.4,144.2 L161.9,143.1 L164.3,142.1 L166.7,141.1 L169.1,140.1 L171.5,139.2 L173.9,138.2 L176.3,137.3 L178.7,136.4 L181.1,135.6 L183.5,134.7 L185.9,133.9 L188.3,133.1 L190.7,132.3 L193.1,131.5 L195.5,130.7 L197.9,130.0 L200.3,129.2 L202.7,128.5 L205.1,127.8 L207.5,127.1 L209.9,126.4 L212.3,125.8 L214.7,125.1 L217.1,124.5 L219.5,123.8 L221.9,123.2 L224.3,122.6 L226.7,122.0 L229.1,121.4 L231.5,120.8 L233.9,120.2 L236.3,119.6 L238.7,119.1 L241.1,118.5 L243.5,118.0 L245.9,117.4 L248.3,116.9 L250.7,116.4 L253.1,115.9 L255.5,115.3 L257.9,114.8 L260.3,114.3 L262.7,113.9 L265.1,113.4 L267.5,112.9 L269.9,112.4 L272.3,112.0 L274.7,111.5 L277.1,111.0 L279.5,110.6 L281.9,110.1 L284.3,109.7 L286.7,109.3 L289.1,108.8 L291.5,108.4 L293.9,108.0 L296.3,107.6 L298.7,107.2 L301.1,106.8 L303.5,106.3 L305.9,105.9 L308.3,105.6 L310.7,105.2 L313.1,104.8 L315.5,104.4 L317.9,104.0 L320.3,103.6 L322.7,103.3 L325.1,102.9 L327.5,102.5 L329.9,102.2 L332.3,101.8 L334.7,101.5 L337.1,101.1 L339.5,100.8" stroke="#800080" stroke-width="2.1" stroke-linecap="square"/>
<path d="M72.4,254.0 L72.4,254.1 L72.5,254.1 L72.5,254.1 L72.5,254.1 L72.5,254.2 L72.6,254.2 L72.6,254.2 L72.6,254.3 L72.7,254.3 L72.7,254.3 L72.7,254.4 L72.8,254.4 L72.8,254.4 L72.8,254.5 L72.8,254.5 L72.9,254.5 L72.9,254.6 L72.9,254.6 L73.0,254.6 L73.0,254.6 L73.0,254.7 L73.1,254.7 L73.1,254.7 L73.1,254.8 L73.3,255.0 L73.5,255.2 L73.7,255.4 L74.0,255.6 L74.2,255.7 L74.4,255.9 L74.6,256.1 L74.8,256.2 L75.0,256.4 L75.2,256.5 L75.4,256.7 L75.6,256.8 L75.8,256.9 L76.1,257.0 L76.3,257.1 L76.5,257.2 L76.7,257.3 L76.9,257.4 L77.1,257.4 L77.3,257.5 L77.5,257.5 L77.7,257.6 L77.9,257.6 L78.2,257.6 L78.4,257.6 L78.6,257.6 L78.8,257.6 L79.0,257.6 L79.2,257.6 L79.4,257.5 L79.6,257.5 L79.8,257.4 L80.0,257.3 L80.3,257.3 L80.5,257.2 L80.7,257.1 L80.9,257.0 L81.1,256.9 L81.3,256.7 L82.1,256.2 L82.8,255.6 L83.6,254.9 L84.3,254.1 L85.1,253.3 L85.8,252.4 L86.6,251.4 L87.3,250.4 L88.1,249.4 L88.9,248.3 L89.6,247.3 L90.4,246.2 L91.1,245.1 L91.9,244.0 L92.6,242.9 L93.4,241.8 L94.1,240.7 L94.9,239.6 L95.6,238.6 L96.4,237.5 L97.2,236.5 L97.9,235.5 L98.7,234.5 L99.4,233.5 L100.2,232.5 L100.9,231.5 L101.7,230.6 L102.4,229.6 L103.2,228.7 L103.9,227.8 L104.7,226.9 L105.5,226.0 L106.2,225.2 L107.0,224.3 L107.7,223.5 L108.5,222.7 L109.2,221.9 L110.0,221.1 L110.7,220.3 L111.5,219.6 L112.2,218.8 L113.0,218.1 L113.8,217.4 L114.5,216.7 L115.3,216.0 L116.0,215.3 L116.8,214.6 L117.5,213.9 L118.3,213.3 L119.0,212.6 L119.8,212.0 L120.5,211.3 L121.3,210.7 L122.1,210.1 L122.8,209.5 L123.6,208.9 L124.3,208.3 L125.1,207.7 L125.8,207.2 L128.2,205.4 L130.6,203.7 L133.0,202.1 L135.4,200.5 L137.8,199.0 L140.2,197.5 L142.6,196.1 L145.0,194.8 L147.4,193.5 L149.8,192.2 L152.2,191.0 L154.6,189.8 L157.0,188.6 L159.4,187.5 L161.9,186.4 L164.3,185.4 L166.7,184.3 L169.1,183.3 L171.5,182.3 L173.9,181.4 L176.3,180.4 L178.7,179.5 L181.1,178.6 L183.5,177.7 L185.9,176.9 L188.3,176.1 L190.7,175.2 L193.1,174.4 L195.5,173.6 L197.9,172.9 L200.3,172.1 L202.7,171.4 L205.1,170.7 L207.5,169.9 L209.9,169.2 L212.3,168.6 L214.7,167.9 L217.1,167.2 L219.5,166.6 L221.9,165.9 L224.3,165.3 L226.7,164.7 L229.1,164.0 L231.5,163.4 L233.9,162.9 L236.3,162.3 L238.7,161.7 L241.1,161.1 L243.5,160.6 L245.9,160.0 L248.3,159.5 L250.7,158.9 L253.1,158.4 L255.5,157.9 L257.9,157.4 L260.3,156.9 L262.7,156.4 L265.1,155.9 L267.5,155.4 L269.9,154.9 L272.3,154.4 L274.7,153.9 L277.1,153.5 L279.5,153.0 L281.9,152.6 L284.3,152.1 L286.7,151.7 L289.1,151.2 L291.5,150.8 L293.9,150.4 L296.3,150.0 L298.7,149.5 L301.1,149.1 L303.5,148.7 L305.9,148.3 L308.3,147.9 L310.7,147.5 L313.1,147.1 L315.5,146.7 L317.9,146.3 L320.3,146.0 L322.7,145.6 L325.1,145.2 L327.5,144.8 L329.9,144.5 L332.3,144.1 L334.7,143.7 L337.1,143.4 L339.5,143.0" stroke="#ff8000" stroke-width="2.1" stroke-linecap="square"/>
<path d="M72.4,254.0 L72.4,253.4 L72.5,251.7 L72.5,249.1 L72.5,246.0 L72.5,242.6 L72.6,239.2 L72.6,235.8 L72.6,232.5 L72.7,229.3 L72.7,226.3 L72.7,223.4 L72.8,220.7 L72.8,218.1 L72.8,215.7 L72.8,213.4 L72.9,211.2 L72.9,209.1 L72.9,207.1 L73.0,205.2 L73.0,203.4 L73.0,201.6 L73.1,200.0 L73.1,198.4 L73.1,196.8 L73.3,187.3 L73.5,179.6 L73.7,173.2 L74.0,167.7 L74.2,162.8 L74.4,158.6 L74.6,154.7 L74.8,151.2 L75.0,148.0 L75.2,145.0 L75.4,142.2 L75.6,139.7 L75.8,137.3 L76.1,135.0 L76.3,132.8 L76.5,130.8 L76.7,128.9 L76.9,127.0 L77.1,125.3 L77.3,123.6 L77.5,122.0 L77.7,120.5 L77.9,119.0 L78.2,117.6 L78.4,116.2 L78.6,114.9 L78.8,113.6 L79.0,112.3 L79.2,111.1 L79.4,110.0 L79.6,108.8 L79.8,107.7 L80.0,106.7 L80.3,105.6 L80.5,104.6 L80.7,103.6 L80.9,102.7 L81.1,101.7 L81.3,100.8 L82.1,97.7 L82.8,94.8 L83.6,92.1 L84.3,89.6 L85.1,87.2 L85.8,85.0 L86.6,82.9 L87.3,80.9 L88.1,79.0 L88.9,77.2 L89.6,75.5 L90.4,73.9 L91.1,72.3 L91.9,70.8 L92.6,69.3 L93.4,67.9 L94.1,66.5 L94.9,65.2 L95.6,64.0 L96.4,62.7 L97.2,61.5 L97.9,60.4 L98.7,59.3 L99.4,58.2 L100.2,57.1 L100.9,56.1 L101.7,55.1 L102.4,54.1 L103.2,53.2 L103.9,52.2 L104.7,51.3 L105.5,50.4 L106.2,49.6 L107.0,48.7 L107.7,47.9 L108.5,47.1 L109.2,46.3 L110.0,45.5 L110.7,44.7 L111.5,44.0 L112.2,43.3 L113.0,42.5 L113.8,41.8 L114.5,41.1 L115.3,40.4 L116.0,39.8 L116.8,39.1 L117.5,38.5 L118.3,37.8 L119.0,37.2 L119.8,36.6 L120.5,36.0 L121.3,35.4 L122.1,34.8 L122.8,34.2 L123.6,33.6 L124.3,33.1 L125.1,32.5 L125.8,32.0 L128.2,30.3 L130.6,28.7 L133.0,27.1 L135.4,25.6 L137.8,24.2 L140.2,22.8 L142.6,21.5 L145.0,20.2 L147.4,18.9 L149.8,17.7 L152.2,16.6 L154.6,15.4 L157.0,14.3 L159.4,13.2 L161.9,12.2 L164.3,11.2 L166.7,10.2 L169.1,9.2 L171.5,8.3 L173.9,7.4 L176.3,6.5 L178.7,5.6 L181.1,4.7 L183.5,3.9 L185.9,3.1 L188.3,2.3 L190.7,1.5 L193.1,0.7 L195.5,-0.1 L197.9,-0.8 L200.3,-1.5 L202.7,-2.2 L205.1,-3.0 L207.5,-3.6 L209.9,-4.3 L212.3,-5.0 L214.7,-5.6 L217.1,-6.3 L219.5,-6.9 L221.9,-7.5 L224.3,-8.0 L226.7,-8.0 L229.1,-8.0 L231.5,-8.0 L233.9,-8.0 L236.3,-8.0 L238.7,-8.0 L241.1,-8.0 L243.5,-8.0 L245.9,-8.0 L248.3,-8.0 L250.7,-8.0 L253.1,-8.0 L255.5,-8.0 L257.9,-8.0 L260.3,-8.0 L262.7,-8.0 L265.1,-8.0 L267.5,-8.0 L269.9,-8.0 L272.3,-8.0 L274.7,-8.0 L277.1,-8.0 L279.5,-8.0 L281.9,-8.0 L284.3,-8.0 L286.7,-8.0 L289.1,-8.0 L291.5,-8.0 L293.9,-8.0 L296.3,-8.0 L298.7,-8.0 L301.1,-8.0 L303.5,-8.0 L305.9,-8.0 L308.3,-8.0 L310.7,-8.0 L313.1,-8.0 L315.5,-8.0 L317.9,-8.0 L320.3,-8.0 L322.7,-8.0 L325.1,-8.0 L327.5,-8.0 L329.9,-8.0 L332.3,-8.0 L334.7,-8.0 L337.1,-8.0 L339.5,-8.0" stroke="#996633" stroke-width="2.1" stroke-linecap="square"/>
<path d="M72.4,254.0 L72.4,253.5 L72.5,252.1 L72.5,249.9 L72.5,247.2 L72.5,244.2 L72.6,241.1 L72.6,237.9 L72.6,234.8 L72.7,231.9 L72.7,229.0 L72.7,226.3 L72.8,223.7 L72.8,221.2 L72.8,218.8 L72.8,216.6 L72.9,214.4 L72.9,212.4 L72.9,210.4 L73.0,208.6 L73.0,206.8 L73.0,205.0 L73.1,203.4 L73.1,201.8 L73.1,200.3 L73.3,190.8 L73.5,183.2 L73.7,176.8 L74.0,171.3 L74.2,166.5 L74.4,162.2 L74.6,158.3 L74.8,154.8 L75.0,151.6 L75.2,148.7 L75.4,145.9 L75.6,143.3 L75.8,140.9" stroke="#3030ff" stroke-opacity="0.5" stroke-width="0.8"/>
<line x1="71.5" y1="214.5" x2="340.7" y2="214.5" stroke="#000" stroke-width="2.05"/>
<line x1="71.5" y1="249.25" x2="340.7" y2="249.25" stroke="#000" stroke-width="2.05" stroke-dasharray="3.0 1.826"/>
<line x1="71.5" y1="259.35" x2="340.7" y2="259.35" stroke="#000" stroke-width="2.05" stroke-dasharray="3.0 1.826"/>
</g>
<rect x="67.0" y="0.35" width="278.0" height="277.59999999999997" fill="none" stroke="#000" stroke-width="1.4"/>
<g stroke="#000" stroke-width="1.0"><line x1="72.40" y1="277.95" x2="72.40" y2="273.95"/><line x1="72.40" y1="0.35" x2="72.40" y2="4.35"/><line x1="81.31" y1="277.95" x2="81.31" y2="275.34999999999997"/><line x1="81.31" y1="0.35" x2="81.31" y2="2.95"/><line x1="90.21" y1="277.95" x2="90.21" y2="275.34999999999997"/><line x1="90.21" y1="0.35" x2="90.21" y2="2.95"/><line x1="99.12" y1="277.95" x2="99.12" y2="275.34999999999997"/><line x1="99.12" y1="0.35" x2="99.12" y2="2.95"/><line x1="108.02" y1="277.95" x2="108.02" y2="273.95"/><line x1="108.02" y1="0.35" x2="108.02" y2="4.35"/><line x1="116.93" y1="277.95" x2="116.93" y2="275.34999999999997"/><line x1="116.93" y1="0.35" x2="116.93" y2="2.95"/><line x1="125.83" y1="277.95" x2="125.83" y2="275.34999999999997"/><line x1="125.83" y1="0.35" x2="125.83" y2="2.95"/><line x1="134.74" y1="277.95" x2="134.74" y2="275.34999999999997"/><line x1="134.74" y1="0.35" x2="134.74" y2="2.95"/><line x1="143.64" y1="277.95" x2="143.64" y2="273.95"/><line x1="143.64" y1="0.35" x2="143.64" y2="4.35"/><line x1="152.55" y1="277.95" x2="152.55" y2="275.34999999999997"/><line x1="152.55" y1="0.35" x2="152.55" y2="2.95"/><line x1="161.45" y1="277.95" x2="161.45" y2="275.34999999999997"/><line x1="161.45" y1="0.35" x2="161.45" y2="2.95"/><line x1="170.36" y1="277.95" x2="170.36" y2="275.34999999999997"/><line x1="170.36" y1="0.35" x2="170.36" y2="2.95"/><line x1="179.26" y1="277.95" x2="179.26" y2="273.95"/><line x1="179.26" y1="0.35" x2="179.26" y2="4.35"/><line x1="188.17" y1="277.95" x2="188.17" y2="275.34999999999997"/><line x1="188.17" y1="0.35" x2="188.17" y2="2.95"/><line x1="197.07" y1="277.95" x2="197.07" y2="275.34999999999997"/><line x1="197.07" y1="0.35" x2="197.07" y2="2.95"/><line x1="205.97" y1="277.95" x2="205.97" y2="275.34999999999997"/><line x1="205.97" y1="0.35" x2="205.97" y2="2.95"/><line x1="214.88" y1="277.95" x2="214.88" y2="273.95"/><line x1="214.88" y1="0.35" x2="214.88" y2="4.35"/><line x1="223.79" y1="277.95" x2="223.79" y2="275.34999999999997"/><line x1="223.79" y1="0.35" x2="223.79" y2="2.95"/><line x1="232.69" y1="277.95" x2="232.69" y2="275.34999999999997"/><line x1="232.69" y1="0.35" x2="232.69" y2="2.95"/><line x1="241.59" y1="277.95" x2="241.59" y2="275.34999999999997"/><line x1="241.59" y1="0.35" x2="241.59" y2="2.95"/><line x1="250.50" y1="277.95" x2="250.50" y2="273.95"/><line x1="250.50" y1="0.35" x2="250.50" y2="4.35"/><line x1="259.40" y1="277.95" x2="259.40" y2="275.34999999999997"/><line x1="259.40" y1="0.35" x2="259.40" y2="2.95"/><line x1="268.31" y1="277.95" x2="268.31" y2="275.34999999999997"/><line x1="268.31" y1="0.35" x2="268.31" y2="2.95"/><line x1="277.22" y1="277.95" x2="277.22" y2="275.34999999999997"/><line x1="277.22" y1="0.35" x2="277.22" y2="2.95"/><line x1="286.12" y1="277.95" x2="286.12" y2="273.95"/><line x1="286.12" y1="0.35" x2="286.12" y2="4.35"/><line x1="295.02" y1="277.95" x2="295.02" y2="275.34999999999997"/><line x1="295.02" y1="0.35" x2="295.02" y2="2.95"/><line x1="303.93" y1="277.95" x2="303.93" y2="275.34999999999997"/><line x1="303.93" y1="0.35" x2="303.93" y2="2.95"/><line x1="312.84" y1="277.95" x2="312.84" y2="275.34999999999997"/><line x1="312.84" y1="0.35" x2="312.84" y2="2.95"/><line x1="321.74" y1="277.95" x2="321.74" y2="273.95"/><line x1="321.74" y1="0.35" x2="321.74" y2="4.35"/><line x1="330.64" y1="277.95" x2="330.64" y2="275.34999999999997"/><line x1="330.64" y1="0.35" x2="330.64" y2="2.95"/><line x1="339.55" y1="277.95" x2="339.55" y2="275.34999999999997"/><line x1="339.55" y1="0.35" x2="339.55" y2="2.95"/></g>
<g stroke="#555" stroke-width="0.45"><line x1="67.0" y1="265.31" x2="68.9" y2="265.31"/><line x1="345.0" y1="265.31" x2="343.1" y2="265.31"/><line x1="67.0" y1="257.52" x2="68.9" y2="257.52"/><line x1="345.0" y1="257.52" x2="343.1" y2="257.52"/><line x1="67.0" y1="252.00" x2="68.9" y2="252.00"/><line x1="345.0" y1="252.00" x2="343.1" y2="252.00"/><line x1="67.0" y1="247.71" x2="68.9" y2="247.71"/><line x1="345.0" y1="247.71" x2="343.1" y2="247.71"/><line x1="67.0" y1="244.21" x2="68.9" y2="244.21"/><line x1="345.0" y1="244.21" x2="343.1" y2="244.21"/><line x1="67.0" y1="241.25" x2="68.9" y2="241.25"/><line x1="345.0" y1="241.25" x2="343.1" y2="241.25"/><line x1="67.0" y1="238.69" x2="68.9" y2="238.69"/><line x1="345.0" y1="238.69" x2="343.1" y2="238.69"/><line x1="67.0" y1="236.42" x2="68.9" y2="236.42"/><line x1="345.0" y1="236.42" x2="343.1" y2="236.42"/><line x1="67.0" y1="234.40" x2="70.2" y2="234.40"/><line x1="345.0" y1="234.40" x2="341.8" y2="234.40"/><line x1="67.0" y1="221.09" x2="68.9" y2="221.09"/><line x1="345.0" y1="221.09" x2="343.1" y2="221.09"/><line x1="67.0" y1="213.30" x2="68.9" y2="213.30"/><line x1="345.0" y1="213.30" x2="343.1" y2="213.30"/><line x1="67.0" y1="207.78" x2="68.9" y2="207.78"/><line x1="345.0" y1="207.78" x2="343.1" y2="207.78"/><line x1="67.0" y1="203.49" x2="68.9" y2="203.49"/><line x1="345.0" y1="203.49" x2="343.1" y2="203.49"/><line x1="67.0" y1="199.99" x2="68.9" y2="199.99"/><line x1="345.0" y1="199.99" x2="343.1" y2="199.99"/><line x1="67.0" y1="197.03" x2="68.9" y2="197.03"/><line x1="345.0" y1="197.03" x2="343.1" y2="197.03"/><line x1="67.0" y1="194.47" x2="68.9" y2="194.47"/><line x1="345.0" y1="194.47" x2="343.1" y2="194.47"/><line x1="67.0" y1="192.20" x2="68.9" y2="192.20"/><line x1="345.0" y1="192.20" x2="343.1" y2="192.20"/><line x1="67.0" y1="190.18" x2="70.2" y2="190.18"/><line x1="345.0" y1="190.18" x2="341.8" y2="190.18"/><line x1="67.0" y1="176.87" x2="68.9" y2="176.87"/><line x1="345.0" y1="176.87" x2="343.1" y2="176.87"/><line x1="67.0" y1="169.08" x2="68.9" y2="169.08"/><line x1="345.0" y1="169.08" x2="343.1" y2="169.08"/><line x1="67.0" y1="163.56" x2="68.9" y2="163.56"/><line x1="345.0" y1="163.56" x2="343.1" y2="163.56"/><line x1="67.0" y1="159.27" x2="68.9" y2="159.27"/><line x1="345.0" y1="159.27" x2="343.1" y2="159.27"/><line x1="67.0" y1="155.77" x2="68.9" y2="155.77"/><line x1="345.0" y1="155.77" x2="343.1" y2="155.77"/><line x1="67.0" y1="152.81" x2="68.9" y2="152.81"/><line x1="345.0" y1="152.81" x2="343.1" y2="152.81"/><line x1="67.0" y1="150.25" x2="68.9" y2="150.25"/><line x1="345.0" y1="150.25" x2="343.1" y2="150.25"/><line x1="67.0" y1="147.98" x2="68.9" y2="147.98"/><line x1="345.0" y1="147.98" x2="343.1" y2="147.98"/><line x1="67.0" y1="145.96" x2="70.2" y2="145.96"/><line x1="345.0" y1="145.96" x2="341.8" y2="145.96"/><line x1="67.0" y1="132.65" x2="68.9" y2="132.65"/><line x1="345.0" y1="132.65" x2="343.1" y2="132.65"/><line x1="67.0" y1="124.86" x2="68.9" y2="124.86"/><line x1="345.0" y1="124.86" x2="343.1" y2="124.86"/><line x1="67.0" y1="119.34" x2="68.9" y2="119.34"/><line x1="345.0" y1="119.34" x2="343.1" y2="119.34"/><line x1="67.0" y1="115.05" x2="68.9" y2="115.05"/><line x1="345.0" y1="115.05" x2="343.1" y2="115.05"/><line x1="67.0" y1="111.55" x2="68.9" y2="111.55"/><line x1="345.0" y1="111.55" x2="343.1" y2="111.55"/><line x1="67.0" y1="108.59" x2="68.9" y2="108.59"/><line x1="345.0" y1="108.59" x2="343.1" y2="108.59"/><line x1="67.0" y1="106.03" x2="68.9" y2="106.03"/><line x1="345.0" y1="106.03" x2="343.1" y2="106.03"/><line x1="67.0" y1="103.76" x2="68.9" y2="103.76"/><line x1="345.0" y1="103.76" x2="343.1" y2="103.76"/><line x1="67.0" y1="101.74" x2="70.2" y2="101.74"/><line x1="345.0" y1="101.74" x2="341.8" y2="101.74"/><line x1="67.0" y1="88.43" x2="68.9" y2="88.43"/><line x1="345.0" y1="88.43" x2="343.1" y2="88.43"/><line x1="67.0" y1="80.64" x2="68.9" y2="80.64"/><line x1="345.0" y1="80.64" x2="343.1" y2="80.64"/><line x1="67.0" y1="75.12" x2="68.9" y2="75.12"/><line x1="345.0" y1="75.12" x2="343.1" y2="75.12"/><line x1="67.0" y1="70.83" x2="68.9" y2="70.83"/><line x1="345.0" y1="70.83" x2="343.1" y2="70.83"/><line x1="67.0" y1="67.33" x2="68.9" y2="67.33"/><line x1="345.0" y1="67.33" x2="343.1" y2="67.33"/><line x1="67.0" y1="64.37" x2="68.9" y2="64.37"/><line x1="345.0" y1="64.37" x2="343.1" y2="64.37"/><line x1="67.0" y1="61.81" x2="68.9" y2="61.81"/><line x1="345.0" y1="61.81" x2="343.1" y2="61.81"/><line x1="67.0" y1="59.54" x2="68.9" y2="59.54"/><line x1="345.0" y1="59.54" x2="343.1" y2="59.54"/><line x1="67.0" y1="57.52" x2="70.2" y2="57.52"/><line x1="345.0" y1="57.52" x2="341.8" y2="57.52"/><line x1="67.0" y1="44.21" x2="68.9" y2="44.21"/><line x1="345.0" y1="44.21" x2="343.1" y2="44.21"/><line x1="67.0" y1="36.42" x2="68.9" y2="36.42"/><line x1="345.0" y1="36.42" x2="343.1" y2="36.42"/><line x1="67.0" y1="30.90" x2="68.9" y2="30.90"/><line x1="345.0" y1="30.90" x2="343.1" y2="30.90"/><line x1="67.0" y1="26.61" x2="68.9" y2="26.61"/><line x1="345.0" y1="26.61" x2="343.1" y2="26.61"/><line x1="67.0" y1="23.11" x2="68.9" y2="23.11"/><line x1="345.0" y1="23.11" x2="343.1" y2="23.11"/><line x1="67.0" y1="20.15" x2="68.9" y2="20.15"/><line x1="345.0" y1="20.15" x2="343.1" y2="20.15"/><line x1="67.0" y1="17.59" x2="68.9" y2="17.59"/><line x1="345.0" y1="17.59" x2="343.1" y2="17.59"/><line x1="67.0" y1="15.32" x2="68.9" y2="15.32"/><line x1="345.0" y1="15.32" x2="343.1" y2="15.32"/><line x1="67.0" y1="13.30" x2="70.2" y2="13.30"/><line x1="345.0" y1="13.30" x2="341.8" y2="13.30"/></g>
<g font-family="Liberation Sans, sans-serif" fill="#000" stroke="#000" stroke-width="0.08"><text transform="translate(72.40,295.2) scale(1,1.05)" text-anchor="middle" font-size="15">0.0</text><text transform="translate(108.02,295.2) scale(1,1.05)" text-anchor="middle" font-size="15">0.2</text><text transform="translate(143.64,295.2) scale(1,1.05)" text-anchor="middle" font-size="15">0.4</text><text transform="translate(179.26,295.2) scale(1,1.05)" text-anchor="middle" font-size="15">0.6</text><text transform="translate(214.88,295.2) scale(1,1.05)" text-anchor="middle" font-size="15">0.8</text><text transform="translate(250.50,295.2) scale(1,1.05)" text-anchor="middle" font-size="15">1.0</text><text transform="translate(286.12,295.2) scale(1,1.05)" text-anchor="middle" font-size="15">1.2</text><text transform="translate(321.74,295.2) scale(1,1.05)" text-anchor="middle" font-size="15">1.4</text><text transform="translate(63.6,284.02) scale(1,1.05)" text-anchor="end" font-size="15">10<tspan font-size="10.8" dy="-5.2">−11</tspan></text><text transform="translate(63.6,239.80) scale(1,1.05)" text-anchor="end" font-size="15">10<tspan font-size="10.8" dy="-5.2">−10</tspan></text><text transform="translate(63.6,195.58) scale(1,1.05)" text-anchor="end" font-size="15">10<tspan font-size="10.8" dy="-5.2">−9</tspan></text><text transform="translate(63.6,151.36) scale(1,1.05)" text-anchor="end" font-size="15">10<tspan font-size="10.8" dy="-5.2">−8</tspan></text><text transform="translate(63.6,107.14) scale(1,1.05)" text-anchor="end" font-size="15">10<tspan font-size="10.8" dy="-5.2">−7</tspan></text><text transform="translate(63.6,62.92) scale(1,1.05)" text-anchor="end" font-size="15">10<tspan font-size="10.8" dy="-5.2">−6</tspan></text><text transform="translate(63.6,18.70) scale(1,1.05)" text-anchor="end" font-size="15">10<tspan font-size="10.8" dy="-5.2">−5</tspan></text><text x="198.9" y="319.3" font-size="16" font-style="italic">κ<tspan font-size="10.8" dy="2.6" dx="0.3">ϵ</tspan><tspan font-size="10.8" dx="-0.6">′</tspan></text><text transform="translate(14.1,189.7) rotate(-90)" font-size="14.5">Br(<tspan font-style="italic">K</tspan><tspan font-size="10.8" dy="3" font-style="italic">L</tspan></text><path d="M9.8,148.6 L9.8,137.9 M5.9,142.3 L9.8,137.5 L13.8,142.3" fill="none" stroke="#000" stroke-width="1.1"/><text transform="translate(14.1,129.1) rotate(-90)" font-size="15"><tspan font-style="italic">π</tspan><tspan font-size="10.8" dy="-6.2" dx="0.6">0</tspan><tspan dy="6.2" dx="4.2">ee)</tspan></text><line x1="77.4" y1="84.10000000000001" x2="97.10000000000001" y2="84.10000000000001" stroke="#0000ff" stroke-width="2.15"/><text transform="translate(105.5,88.9) scale(1,1.05)" font-size="15" font-style="italic">S<tspan font-size="10.8" dy="3.3" font-style="normal">1</tspan></text><text x="110.45" y="75.85" font-size="10.1" font-style="normal">~</text><line x1="135.4" y1="84.10000000000001" x2="155.1" y2="84.10000000000001" stroke="#ff0000" stroke-width="2.15"/><text transform="translate(163.8,88.9) scale(1,1.05)" font-size="15" font-style="italic">S<tspan font-size="10.8" dy="3.3" font-style="normal">3</tspan></text><line x1="193.5" y1="84.10000000000001" x2="213.2" y2="84.10000000000001" stroke="#00ffff" stroke-width="2.15"/><text transform="translate(220.9,88.9) scale(1,1.05)" font-size="15" font-style="italic">R<tspan font-size="10.8" dy="3.3" font-style="normal">2</tspan><tspan dy="-3.3" dx="1.6" font-style="normal">,</tspan><tspan dx="4.9">V</tspan><tspan font-size="10.8" dy="3.3" font-style="normal">2,</tspan><tspan font-size="10.8" dy="0">R</tspan></text><line x1="288.2" y1="84.10000000000001" x2="307.9" y2="84.10000000000001" stroke="#00ff00" stroke-width="2.15"/><text transform="translate(316.5,88.9) scale(1,1.05)" font-size="15" font-style="italic">R<tspan font-size="10.8" dy="3.3" font-style="normal">2</tspan></text><text x="321.95" y="75.6" font-size="10.1" font-style="normal">~</text><line x1="77.4" y1="114.7" x2="97.10000000000001" y2="114.7" stroke="#800080" stroke-width="2.15"/><text transform="translate(105.6,119.5) scale(1,1.05)" font-size="15" font-style="italic">U<tspan font-size="10.8" dy="3.3" font-style="normal">1,</tspan><tspan font-size="10.8" dy="0">L</tspan></text><line x1="146.2" y1="114.7" x2="165.89999999999998" y2="114.7" stroke="#ff8000" stroke-width="2.15"/><text transform="translate(174.5,119.5) scale(1,1.05)" font-size="15" font-style="italic">U<tspan font-size="10.8" dy="3.3" font-style="normal">3</tspan></text><line x1="204.8" y1="114.7" x2="224.5" y2="114.7" stroke="#996633" stroke-width="2.15"/><text transform="translate(233.2,119.5) scale(1,1.05)" font-size="15" font-style="italic">U<tspan font-size="10.8" dy="3.3" font-style="normal">1,</tspan><tspan font-size="10.8" dx="1.0">R</tspan><tspan dy="-3.3" dx="1.6" font-style="normal">,</tspan><tspan dx="3.8">V</tspan><tspan font-size="10.8" dy="3.3" font-style="normal">2,</tspan><tspan font-size="10.8" dy="0">L</tspan></text></g>
</svg>
</body></html>
